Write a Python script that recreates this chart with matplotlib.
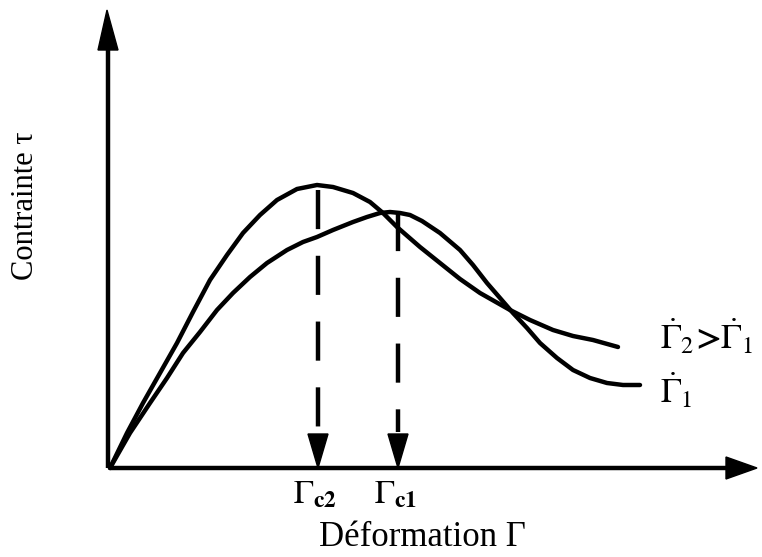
import matplotlib
matplotlib.use("Agg")
import matplotlib.pyplot as plt
from matplotlib.patches import Polygon

plt.rcParams['font.family'] = ['Liberation Serif', 'DejaVu Serif']
plt.rcParams['mathtext.fontset'] = 'stix'

# Curve for higher strain rate (Gamma_dot_2): strain, stress (arbitrary units)
gamma_2 = [0.00, 0.17, 0.33, 0.50, 0.67, 0.83, 1.00, 1.17, 1.33, 1.50, 1.67, 1.87,
           2.07, 2.23, 2.43, 2.60, 2.73, 2.87, 3.10, 3.30, 3.50, 3.70, 4.00, 4.20,
           4.43, 4.63, 4.83, 5.08]
tau_2 = [0.00, 0.35, 0.65, 0.95, 1.25, 1.56, 1.88, 2.13, 2.35, 2.53, 2.68, 2.79,
         2.83, 2.81, 2.75, 2.66, 2.55, 2.41, 2.21, 2.05, 1.89, 1.75, 1.58, 1.48,
         1.38, 1.32, 1.28, 1.21]

# Curve for lower strain rate (Gamma_dot_1)
gamma_1 = [0.00, 0.20, 0.40, 0.57, 0.73, 0.90, 1.07, 1.23, 1.40, 1.57, 1.77, 1.93,
           2.07, 2.23, 2.43, 2.57, 2.70, 2.80, 2.90, 3.00, 3.12, 3.30, 3.50, 3.63,
           3.77, 3.90, 4.03, 4.17, 4.30, 4.47, 4.63, 4.80, 4.97, 5.13, 5.30]
tau_1 = [0.00, 0.35, 0.65, 0.90, 1.15, 1.36, 1.58, 1.75, 1.91, 2.05, 2.18, 2.26,
         2.31, 2.38, 2.46, 2.51, 2.55, 2.56, 2.55, 2.53, 2.47, 2.35, 2.18, 2.03,
         1.85, 1.70, 1.55, 1.40, 1.25, 1.10, 0.98, 0.90, 0.85, 0.83, 0.83]

# Critical strains (peaks)
gamma_c = [2.08, 2.88]
tau_peak = [2.78, 2.56]
crit_labels = [r'$\Gamma_{\mathbf{c2}}$', r'$\Gamma_{\mathbf{c1}}$']

x_axis_label = 'Déformation Γ'
y_axis_label = 'Contrainte τ'
curve_labels = [r'$\dot{\Gamma}_2\!\boldsymbol{>}\!\dot{\Gamma}_1$', r'$\dot{\Gamma}_1$']

fig = plt.figure(figsize=(7.62, 5.57), dpi=100)
ax = fig.add_axes([0, 0, 1, 1])
ax.set_xlim(-1.10, 6.52)
ax.set_ylim(-0.89, 4.68)
ax.axis('off')

lw = 3.2
ax.plot(gamma_2, tau_2, color='black', lw=lw, solid_joinstyle='round', solid_capstyle='round')
ax.plot(gamma_1, tau_1, color='black', lw=lw, solid_joinstyle='round', solid_capstyle='round')

# Axes with arrows
ax.plot([0, 6.18], [0, 0], color='black', lw=lw, solid_capstyle='butt')
ax.add_patch(Polygon([[6.16, 0.11], [6.47, 0.0], [6.16, -0.11]], closed=True, color='black'))
ax.plot([-0.02, -0.02], [0, 4.20], color='black', lw=lw, solid_capstyle='butt')
ax.add_patch(Polygon([[-0.12, 4.18], [-0.03, 4.58], [0.08, 4.18]], closed=True, color='black'))

# Dashed arrows from peaks down to the strain axis
head_h = 0.34
for gc, tp, lab in zip(gamma_c, tau_peak, crit_labels):
    ax.plot([gc, gc], [tp, head_h + 0.02], color='black', lw=lw,
            dashes=(8.8, 6.0), solid_capstyle='butt', dash_capstyle='butt')
    ax.add_patch(Polygon([[gc - 0.10, head_h], [gc, 0.0], [gc + 0.10, head_h]],
                         closed=True, color='black'))
    ax.text(gc - 0.03, -0.27, lab, fontsize=24, ha='center', va='center')

ax.text(-0.85, 2.62, y_axis_label, rotation=90, fontsize=22, ha='center', va='center')
ax.text(3.12, -0.69, x_axis_label, fontsize=25, ha='center', va='center')

ax.text(5.50, 1.30, curve_labels[0], fontsize=25, ha='left', va='center')
ax.text(5.50, 0.76, curve_labels[1], fontsize=25, ha='left', va='center')

fig.savefig('out.png', dpi=100)
